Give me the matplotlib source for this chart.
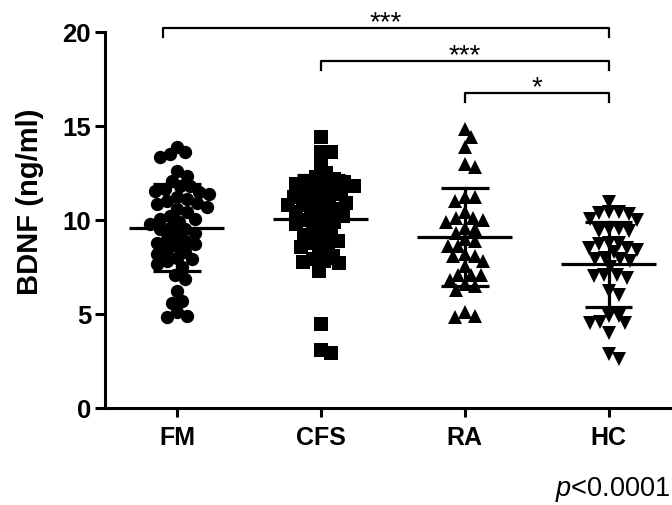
import numpy as np
import matplotlib
matplotlib.use("Agg")
import matplotlib.pyplot as plt

plt.rcParams['font.family'] = ['Liberation Sans', 'DejaVu Sans']
plt.rcParams['mathtext.fontset'] = 'custom'
plt.rcParams['mathtext.it'] = 'Liberation Sans:italic'
plt.rcParams['mathtext.rm'] = 'Liberation Sans'

categories = ["FM", "CFS", "RA", "HC"]

fm = [13.9, 13.6, 13.5, 13.35, 12.6, 12.35, 12.1, 11.8, 11.8, 11.65, 11.55, 11.4,
      11.1, 11.0, 11.5, 10.85, 10.7, 10.6, 10.4, 10.2, 10.05, 10.05, 9.8, 9.6, 9.5,
      9.5, 9.3, 9.2, 9.0, 8.8, 8.7, 8.6, 8.4, 8.3, 8.2, 8.0, 7.9, 7.8, 7.65, 7.5,
      7.1, 6.85, 6.2, 5.7, 5.6, 5.1, 4.9, 4.85, 11.2, 10.9, 9.9, 8.9]

cfs = [14.4, 13.6, 13.6, 13.0, 12.5, 12.3, 12.2, 12.0, 11.9, 11.8, 11.7, 11.6, 11.5,
       11.3, 11.2, 11.1, 11.0, 10.9, 10.8, 10.7, 10.6, 10.5, 10.4, 10.3, 10.2, 10.1,
       10.0, 9.9, 9.8, 9.6, 9.5, 9.3, 9.2, 9.0, 8.9, 8.8, 8.6, 8.55, 8.3, 8.1, 7.9,
       7.8, 7.75, 7.7, 7.3, 4.45, 3.1, 2.9, 12.1, 11.4, 10.8, 11.9]

ra = [14.85, 14.4, 13.9, 13.0, 12.8, 11.2, 11.0, 11.2, 10.1, 9.9, 10.1, 10.0, 9.6,
      9.5, 8.6, 8.6, 8.1, 8.2, 8.1, 7.8, 7.55, 8.9, 9.0, 7.1, 7.1, 7.1, 6.8, 6.6,
      6.5, 6.3, 5.1, 4.85, 4.9, 9.3, 10.4]

hc = [10.95, 10.4, 10.35, 10.4, 10.3, 10.05, 10.0, 9.5, 9.4, 9.4, 9.5, 8.8, 8.8,
      8.7, 8.4, 8.5, 8.5, 8.3, 7.9, 7.9, 7.8, 8.0, 7.5, 7.0, 7.1, 6.9, 7.1, 6.0,
      6.2, 4.9, 4.5, 4.6, 4.9, 4.5, 4.0, 2.6, 2.85]

groups = [fm, cfs, ra, hc]
markers = ['o', 's', '^', 'v']
yticks = [0, 5, 10, 15, 20]

# significance brackets: (left group, right group, label)
comparisons = [(0, 3, "***"), (1, 3, "***"), (2, 3, "*")]
bracket_levels = [20.2, 18.45, 16.75]
p_text = r"$\mathit{p}$<0.0001"

W, H, DPI = 6.72, 5.06, 100
fig = plt.figure(figsize=(W, H), dpi=DPI)
ax_left, ax_bottom, ax_w, ax_h = 105 / 672, 97 / 506, 567 / 672, 376 / 506
ax = fig.add_axes([ax_left, ax_bottom, ax_w, ax_h])
xlim = (-0.5, 3.44)
ylim = (0, 20)
ax.set_xlim(*xlim)
ax.set_ylim(*ylim)

ppx = ax_w * W * DPI / (xlim[1] - xlim[0])
ppy = ax_h * H * DPI / (ylim[1] - ylim[0])


def swarm(vals, d):
    vals = np.asarray(vals, float)
    ys = vals * ppy
    order = np.argsort(-ys)
    xs = np.zeros(len(vals))
    placed = []
    step = d / 6.0
    cands = [0.0]
    for k in range(1, 120):
        cands += [k * step, -k * step]
    for i in order:
        for c in cands:
            ok = True
            for (px, py) in placed:
                if (c - px) ** 2 + (ys[i] - py) ** 2 < d * d:
                    ok = False
                    break
            if ok:
                break
        xs[i] = c
        placed.append((c, ys[i]))
    return xs / ppx


msizes = {'o': 9.6, 's': 9.4, '^': 10.0, 'v': 10.0}
for gi, (vals, mk) in enumerate(zip(groups, markers)):
    offs = swarm(vals, 10.0)
    ax.plot(gi + offs, vals, linestyle='none', marker=mk, ms=msizes[mk],
            color='black', markeredgewidth=0, zorder=2, clip_on=False)
    m = np.mean(vals)
    sd = np.std(vals, ddof=1)
    ax.plot([gi - 0.33, gi + 0.33], [m, m], color='black', lw=2.3, zorder=3,
            solid_capstyle='butt')
    ax.plot([gi, gi], [m - sd, m + sd], color='black', lw=2.3, zorder=3)
    for yy in (m - sd, m + sd):
        ax.plot([gi - 0.165, gi + 0.165], [yy, yy], color='black', lw=2.3,
                zorder=3, solid_capstyle='butt')

drop = 0.48
for (a, b, lab), lev in zip(comparisons, bracket_levels):
    xa = a - 0.1 if a == 0 else a
    ax.plot([xa, xa, b, b], [lev - drop, lev, lev, lev - drop], color='black',
            lw=1.6, clip_on=False, zorder=4)
    ax.text((xa + b) / 2, lev - 0.05, lab, ha='center', va='baseline',
            fontsize=20, clip_on=False)

ax.set_xticks(range(len(categories)))
ax.set_xticklabels(categories, fontsize=18, fontweight='bold')
ax.set_yticks(yticks)
ax.set_yticklabels([str(t) for t in yticks], fontsize=18.5, fontweight='bold')
ax.tick_params(axis='y', length=7, width=2.2, pad=3)
ax.tick_params(axis='x', length=6.5, width=2.2, pad=6)
for s in ('top', 'right'):
    ax.spines[s].set_visible(False)
for s in ('left', 'bottom'):
    ax.spines[s].set_linewidth(2.2)

fig.text(30 / 672, 1 - 202 / 506, "BDNF (ng/ml)", rotation=90, ha='center',
         va='center', fontsize=21, fontweight='bold')
fig.text(670 / 672, 1 - 490 / 506, p_text, ha='right', va='center', fontsize=19.5)

fig.savefig("out.png", dpi=DPI)
